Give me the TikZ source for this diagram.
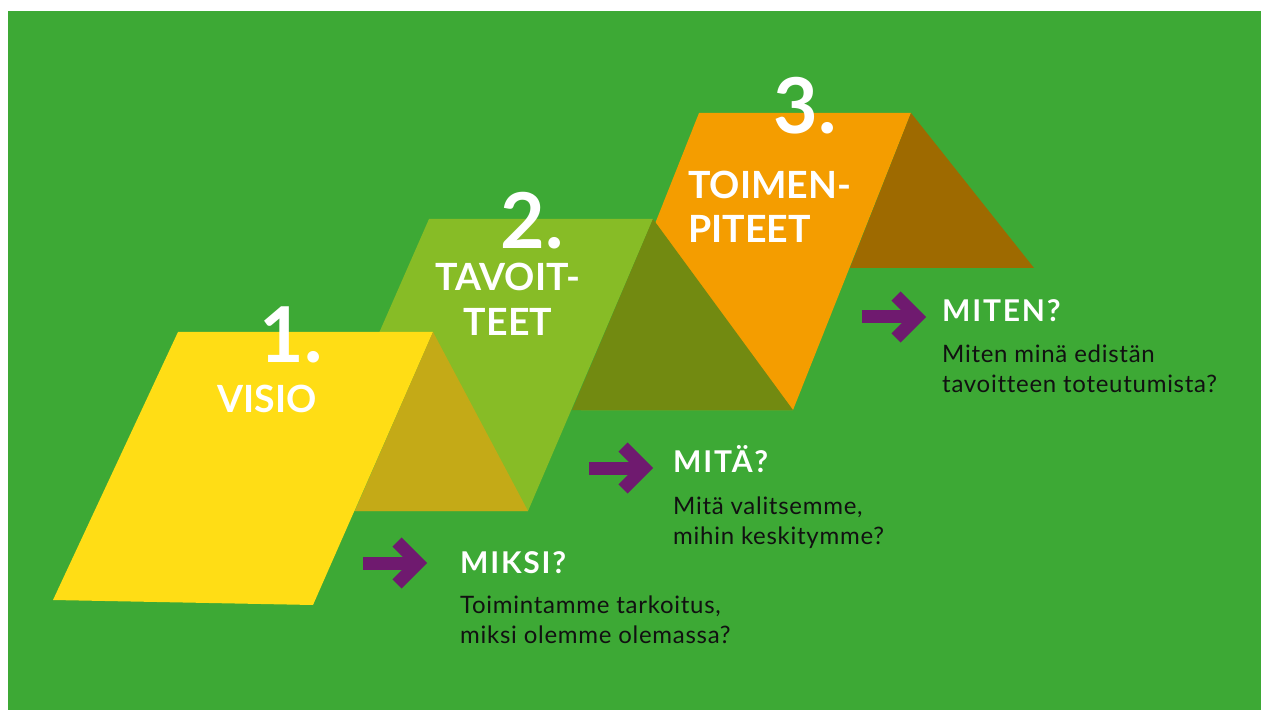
\documentclass[tikz,border=0pt]{standalone}
\usepackage{fontspec}
\setmainfont{Lato}
\newfontfamily\kysymysfont[LetterSpace=6]{Lato}
\newfontfamily\selitysfont[LetterSpace=3, Ligatures=NoCommon]{Lato}
\usetikzlibrary{positioning}
\definecolor{tausta}{RGB}{61,169,53}
\definecolor{keltainen}{RGB}{255,221,21}
\definecolor{tummakeltainen}{RGB}{196,170,23}
\definecolor{vaaleanvihrea}{RGB}{135,188,38}
\definecolor{oliivi}{RGB}{114,138,17}
\definecolor{oranssi}{RGB}{244,157,0}
\definecolor{ruskea}{RGB}{158,106,0}
\definecolor{violetti}{RGB}{111,26,111}
\definecolor{teksti}{RGB}{17,17,17}
\tikzset{
  numero/.style={text=white, font=\fontsize{77}{77}\bfseries, inner sep=0pt, anchor=base},
  otsikko/.style={text=white, font=\fontsize{37.5}{44}\bfseries, inner sep=0pt, anchor=base},
  kysymys/.style={text=white, font=\kysymysfont\fontsize{30}{30}\bfseries, inner sep=0pt, anchor=base west},
  selitys/.style={text=teksti, font=\selitysfont\fontsize{24}{29.5}\selectfont, inner sep=0pt, align=left, anchor=base west},
  nuolivarsi/.style={draw=violetti, line width=13pt},
  nuolikarki/.style={draw=violetti, line width=13pt, line join=miter},
  pics/nuoli/.style={code={
    \draw[nuolivarsi] (-64,0) -- (-9,0);
    \draw[nuolikarki] (-30,-21) -- (-9,0) -- (-30,21);
  }}
}

\begin{document}
\begin{tikzpicture}[x=1pt, y=-1pt]
    \useasboundingbox (0,0) rectangle (1261,711);
    \fill[tausta] (8,11) rectangle (1261,710);

    % porras 3
    \fill[oranssi] (699,113) -- (911,113) -- (793,410) -- (581,410) -- cycle;
    \fill[ruskea] (911,113) -- (850,268) -- (1034,268) -- cycle;
    % porras 2
    \fill[vaaleanvihrea] (429,219) -- (653,219) -- (528,511) -- (301,511) -- cycle;
    \fill[oliivi] (653,219) -- (572,410) -- (793,410) -- cycle;
    % porras 1
    \fill[keltainen] (178,332) -- (433,332) -- (313,605) -- (53,600) -- cycle;
    \fill[tummakeltainen] (433,332) -- (355,511) -- (528,511) -- cycle;

    % numerot ja otsikot (monirivisissa base = viimeinen rivi)
    \node[numero] (n1) at (291,362) {1.};
    \node[otsikko] (visio) at (267,412) {VISIO};
    \node[numero] (n2) at (532,249) {2.};
    \node[otsikko, align=center] (tavoitteet) at (508,335) {TAVOIT-\\TEET};
    \node[numero] (n3) at (805,134) {3.};
    \node[otsikko, align=left, anchor=base west] (toimenpiteet) at (688,243) {TOIMEN-\\PITEET};

    \node[kysymys] (miksi) at (460,573) {MIKSI?};
    \node[selitys] (miksiteksti) at (460,643) {Toimintamme tarkoitus,\\miksi olemme olemassa?};
    \node[kysymys] (mita) at (673,472) {MITÄ?};
    \node[selitys] (mitateksti) at (673,544) {Mitä valitsemme,\\mihin keskitymme?};
    \node[kysymys] (miten) at (942,322) {MITEN?};
    \node[selitys] (mitenteksti) at (942,392) {Miten minä edistän\\tavoitteen toteutumista?};

    \pic at (427,563) {nuoli};
    \pic at (653,468) {nuoli};
    \pic at (926,317) {nuoli};
\end{tikzpicture}
\end{document}
